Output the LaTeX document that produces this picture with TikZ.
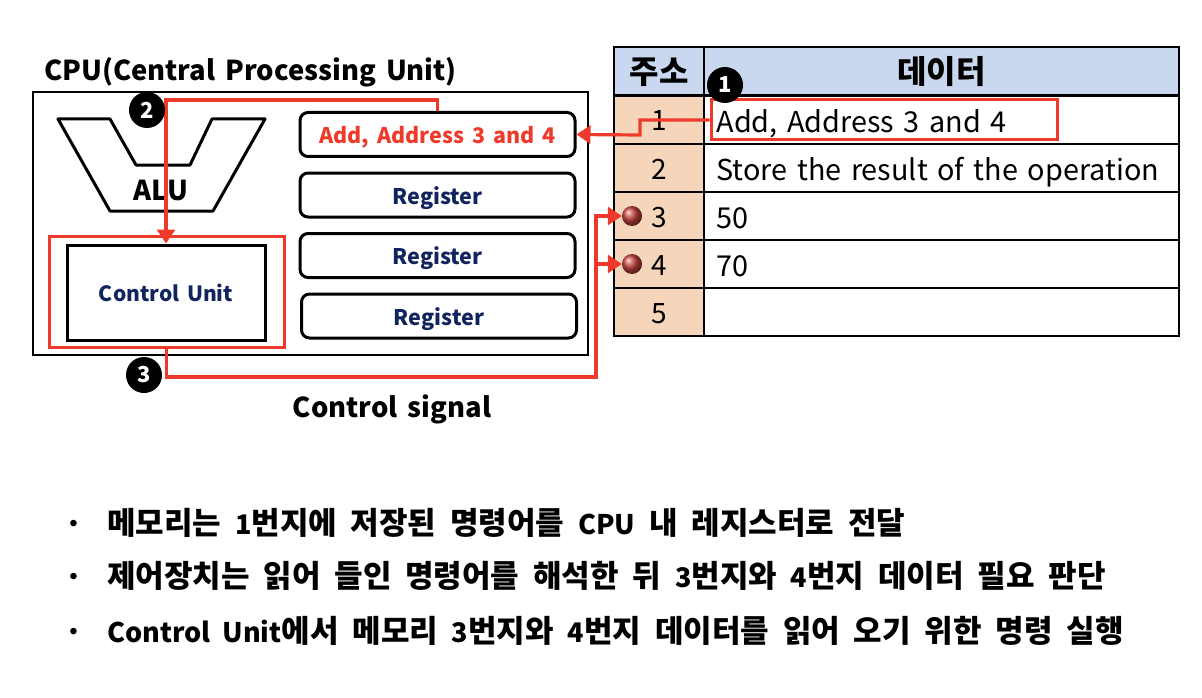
\documentclass[tikz,border=0pt]{standalone}
\usepackage{xcolor}
\usepackage{fontspec}
\setmainfont[WordSpace=1.6]{Noto Sans CJK KR}
\newfontfamily\bulletfont[WordSpace=1.95]{Noto Sans CJK KR}
\newfontfamily\dotfont{Liberation Sans}
\newcommand{\lat}[1]{{\fontsize{27}{32}\selectfont #1}}
\usetikzlibrary{positioning, arrows.meta, shapes.geometric, calc}
\definecolor{sigred}{HTML}{EE3A2A}
\definecolor{navytext}{HTML}{12245F}
\definecolor{headblue}{HTML}{C9D8EE}
\definecolor{addrtan}{HTML}{F5D6BA}
\definecolor{ballred}{HTML}{C8443F}
\tikzset{
  regbox/.style={draw, line width=3pt, rounded corners=8pt, minimum width=275pt, minimum height=44pt,
                 align=center, inner sep=0pt, text=navytext, text height=18pt, text depth=0pt, font=\fontsize{21.5}{26}\selectfont\bfseries},
  redframe/.style={draw=sigred, line width=3pt, inner sep=0pt},
  flow/.style={-{Triangle[length=14pt,width=18pt]}, draw=sigred, line width=3.2pt},
  badge/.style={circle, fill=black, text=white, minimum size=36pt, inner sep=0pt, font=\fontsize{22}{26}\selectfont\bfseries},
  title/.style={inner sep=0pt, font=\fontsize{27.4}{32}\selectfont\bfseries},
  bullet/.style={anchor=west, inner sep=0pt, font=\fontsize{31}{36}\selectfont\bfseries\bulletfont},
  dotmark/.style={inner sep=0pt, yshift=-3pt, font=\fontsize{24}{28}\selectfont\dotfont}
}
\begin{document}
\begin{tikzpicture}[
  x=1pt, y=-1pt,
  head/.style={draw, line width=1.5pt, fill=headblue, minimum height=48pt, inner sep=0pt, text height=25pt, text depth=0pt, font=\fontsize{32}{36}\selectfont\bfseries},
  addr/.style={draw, line width=1.5pt, fill=addrtan, minimum width=90pt, minimum height=48pt, inner sep=0pt, text height=22pt, text depth=0pt, font=\fontsize{28}{32}\selectfont},
  cell/.style={draw, line width=1.5pt, minimum width=475pt, minimum height=48pt, inner sep=0pt, align=left, text width=450pt, text height=25pt, text depth=0pt, font=\fontsize{28.8}{34}\selectfont},
  ball/.style={circle, minimum size=20pt, inner sep=0pt, shading=ball, ball color=ballred}
]
\useasboundingbox (0,0) rectangle (1202,698);

% CPU side
\node[title, anchor=west] (cputitle) at (44,72) {CPU(Central Processing Unit)};
\node[draw, line width=2.4pt, minimum width=555pt, minimum height=263pt, inner sep=0pt] (cpu) at (310.5,223.5) {};
\draw[line width=3pt, line join=round] (58,119) -- (110,119) -- (136,165) -- (190,165) -- (212,119) -- (265,119) -- (213,211) -- (110,211) -- cycle;
\node[title] (alu) at (161,190) {ALU};
\node[regbox, text=sigred] (regone) at (437.5,134.5) {Add, Address 3 and 4};
\node[regbox] (regtwo) at (437.5,195) {Register};
\node[regbox] (regthree) at (437.5,255.5) {Register};
\node[regbox] (regfour) at (439,316) {Register};
\node[redframe, minimum width=235pt, minimum height=111pt] (cuframe) at (166.5,291.5) {};
\node[draw, line width=3pt, minimum width=198pt, minimum height=95pt, inner sep=0pt, text=navytext, text height=17pt, text depth=0pt, font=\fontsize{21}{26}\selectfont\bfseries] (cu) at (166,292.5) {Control Unit};
\node[title] (signal) at (392,409) {Control signal};

% memory table
\node[head, minimum width=90pt] (haddr) at (659,71) {주소};
\node[head, minimum width=475pt] (hdata) at (941.5,71) {데이터};
\node[addr] (aone) at (659,120) {1};
\node[addr] (atwo) at (659,168) {2};
\node[addr] (athree) at (659,216) {3};
\node[addr] (afour) at (659,264) {4};
\node[addr] (afive) at (659,312) {5};
\node[cell] (done) at (941.5,120) {Add, Address 3 and 4};
\node[cell] (dtwo) at (941.5,168) {Store the result of the operation};
\node[cell] (dthree) at (941.5,216) {50};
\node[cell] (dfour) at (941.5,264) {70};
\node[cell] (dfive) at (941.5,312) {};
\node[redframe, minimum width=346pt, minimum height=40pt] (dframe) at (884,120) {};
\node[ball] (ballthree) at (632,216) {};
\node[ball] (ballfour) at (632,264) {};

% red connectors
\coordinate (bendone) at (640,135);
\coordinate (bendtwo) at (166,100);
\coordinate (bendthree) at (596,377);
\draw[flow] (dframe.west) -| (bendone) -- (regone.east);
\draw[flow] (regone.north) |- (bendtwo) -- (cu.north);
\draw[flow] (cuframe.south) |- (bendthree) |- (ballthree.west);
\draw[flow] (bendthree) |- (ballfour.west);

\node[badge] (mone) at (725,85) {1};
\node[badge] (mtwo) at (147,110) {2};
\node[badge] (mthree) at (144,375) {3};

% bullets
\node[bullet] (bone) at (107,523) {메모리는 \lat{1}번지에 저장된 명령어를 \lat{CPU} 내 레지스터로 전달};
\node[bullet] (btwo) at (107,576) {제어장치는 읽어 들인 명령어를 해석한 뒤 \lat{3}번지와 \lat{4}번지 데이터 필요 판단};
\node[bullet] (bthree) at (107,631) {\lat{Control Unit}에서 메모리 \lat{3}번지와 \lat{4}번지 데이터를 읽어 오기 위한 명령 실행};
\node[dotmark, left=29pt of bone.west] (dotone) {•};
\node[dotmark, left=29pt of btwo.west] (dottwo) {•};
\node[dotmark, left=29pt of bthree.west] (dotthree) {•};
\end{tikzpicture}
\end{document}
